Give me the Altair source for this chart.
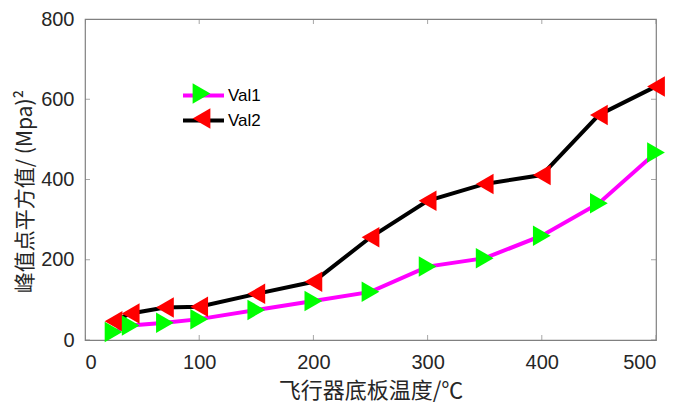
import altair as alt
import pandas as pd

temps = [25, 40, 70, 100, 150, 200, 250, 300, 350, 400, 450, 500]
val1 = [20, 36, 43, 52, 75, 97, 120, 183, 204, 260, 341, 467]
val2 = [47, 66, 81, 83, 115, 145, 256, 347, 389, 411, 561, 632]
series_names = ["Val1", "Val2"]
x_ticks = [0, 100, 200, 300, 400, 500]
y_ticks = [0, 200, 400, 600, 800]

rows = []
for t, a, b in zip(temps, val1, val2):
    rows.append({"t": t, "v": a, "s": "Val1", "s2": "Val1"})
    rows.append({"t": t, "v": b, "s": "Val2", "s2": "Val2"})
df = pd.DataFrame(rows)

W, H = 571, 321
FRAME = "#808080"
LABEL_FONT = "Liberation Sans"
MS = 420  # marker size

xscale = alt.Scale(domain=[0, 500], nice=False)
yscale = alt.Scale(domain=[0, 800], nice=False)

xaxis = alt.Axis(values=x_ticks, title="飞行器底板温度/℃", grid=False, domain=False,
                 ticks=False, labelFont=LABEL_FONT, labelFontSize=20, labelColor="#262626",
                 labelPadding=12, titleFont="Noto Sans CJK SC", titleFontSize=22,
                 titleFontWeight="normal", titleColor="#262626", titlePadding=8)
yaxis = alt.Axis(values=y_ticks, title="峰值点平方值/ (Mpa)²", grid=False, domain=False,
                 ticks=False, labelFont=LABEL_FONT, labelFontSize=20, labelColor="#262626",
                 labelPadding=11, titleFont="Noto Sans CJK SC", titleFontSize=21,
                 titleFontWeight="normal", titleColor="#262626", titlePadding=5, titleY=172)

base = alt.Chart(df)

LX, LY = 106, 64

lines = base.mark_line(strokeWidth=4).encode(
    x=alt.X("t:Q", scale=xscale, axis=xaxis),
    y=alt.Y("v:Q", scale=yscale, axis=yaxis),
    stroke=alt.Stroke("s:N", scale=alt.Scale(domain=series_names, range=["#FF00FF", "#000000"]),
                      legend=alt.Legend(orient="none", legendX=LX, legendY=LY, title=None,
                                        symbolType="M-2,0H2", symbolSize=MS, symbolStrokeWidth=4,
                                        symbolFillColor="transparent",
                                        labelFont=LABEL_FONT, labelFontSize=17, labelColor="#000000",
                                        labelOffset=12, rowPadding=4)),
    detail="s:N",
)

pt_legend = alt.Legend(orient="none", legendX=LX, legendY=LY, title=None,
                       symbolSize=MS, symbolStrokeWidth=0,
                       labelExpr="''", labelFontSize=1, labelOffset=0, rowPadding=4)
points = base.mark_point(filled=True, size=MS, opacity=1, strokeWidth=0).encode(
    x=alt.X("t:Q", scale=xscale),
    y=alt.Y("v:Q", scale=yscale),
    shape=alt.Shape("s2:N", scale=alt.Scale(domain=series_names, range=["triangle-right", "triangle-left"]),
                    legend=pt_legend),
    fill=alt.Fill("s2:N", scale=alt.Scale(domain=series_names, range=["#00FF00", "#FF0000"]),
                  legend=pt_legend),
)

xt = pd.DataFrame({"t": x_ticks})
yt = pd.DataFrame({"v": y_ticks})
xtick_bot = alt.Chart(xt).mark_tick(orient="vertical", size=10, thickness=1, color=FRAME, clip=True).encode(
    x=alt.X("t:Q", scale=xscale), y=alt.datum(0))
xtick_top = alt.Chart(xt).mark_tick(orient="vertical", size=10, thickness=1, color=FRAME, clip=True).encode(
    x=alt.X("t:Q", scale=xscale), y=alt.datum(800))
ytick_l = alt.Chart(yt).mark_tick(orient="horizontal", size=10, thickness=1, color=FRAME, clip=True).encode(
    y=alt.Y("v:Q", scale=yscale), x=alt.datum(0))
ytick_r = alt.Chart(yt).mark_tick(orient="horizontal", size=10, thickness=1, color=FRAME, clip=True).encode(
    y=alt.Y("v:Q", scale=yscale), x=alt.datum(500))

chart = alt.layer(xtick_bot, xtick_top, ytick_l, ytick_r, lines, points).resolve_legend(
    stroke="independent", shape="independent", fill="independent"
).properties(
    width=W, height=H,
    autosize=alt.AutoSizeParams(type="none"),
    padding={"left": 85, "top": 19, "right": 19, "bottom": 64},
    background="white",
).configure_view(stroke=FRAME, strokeWidth=1.2)

chart.save("out.html", embed_options={"renderer": "svg", "actions": False})
